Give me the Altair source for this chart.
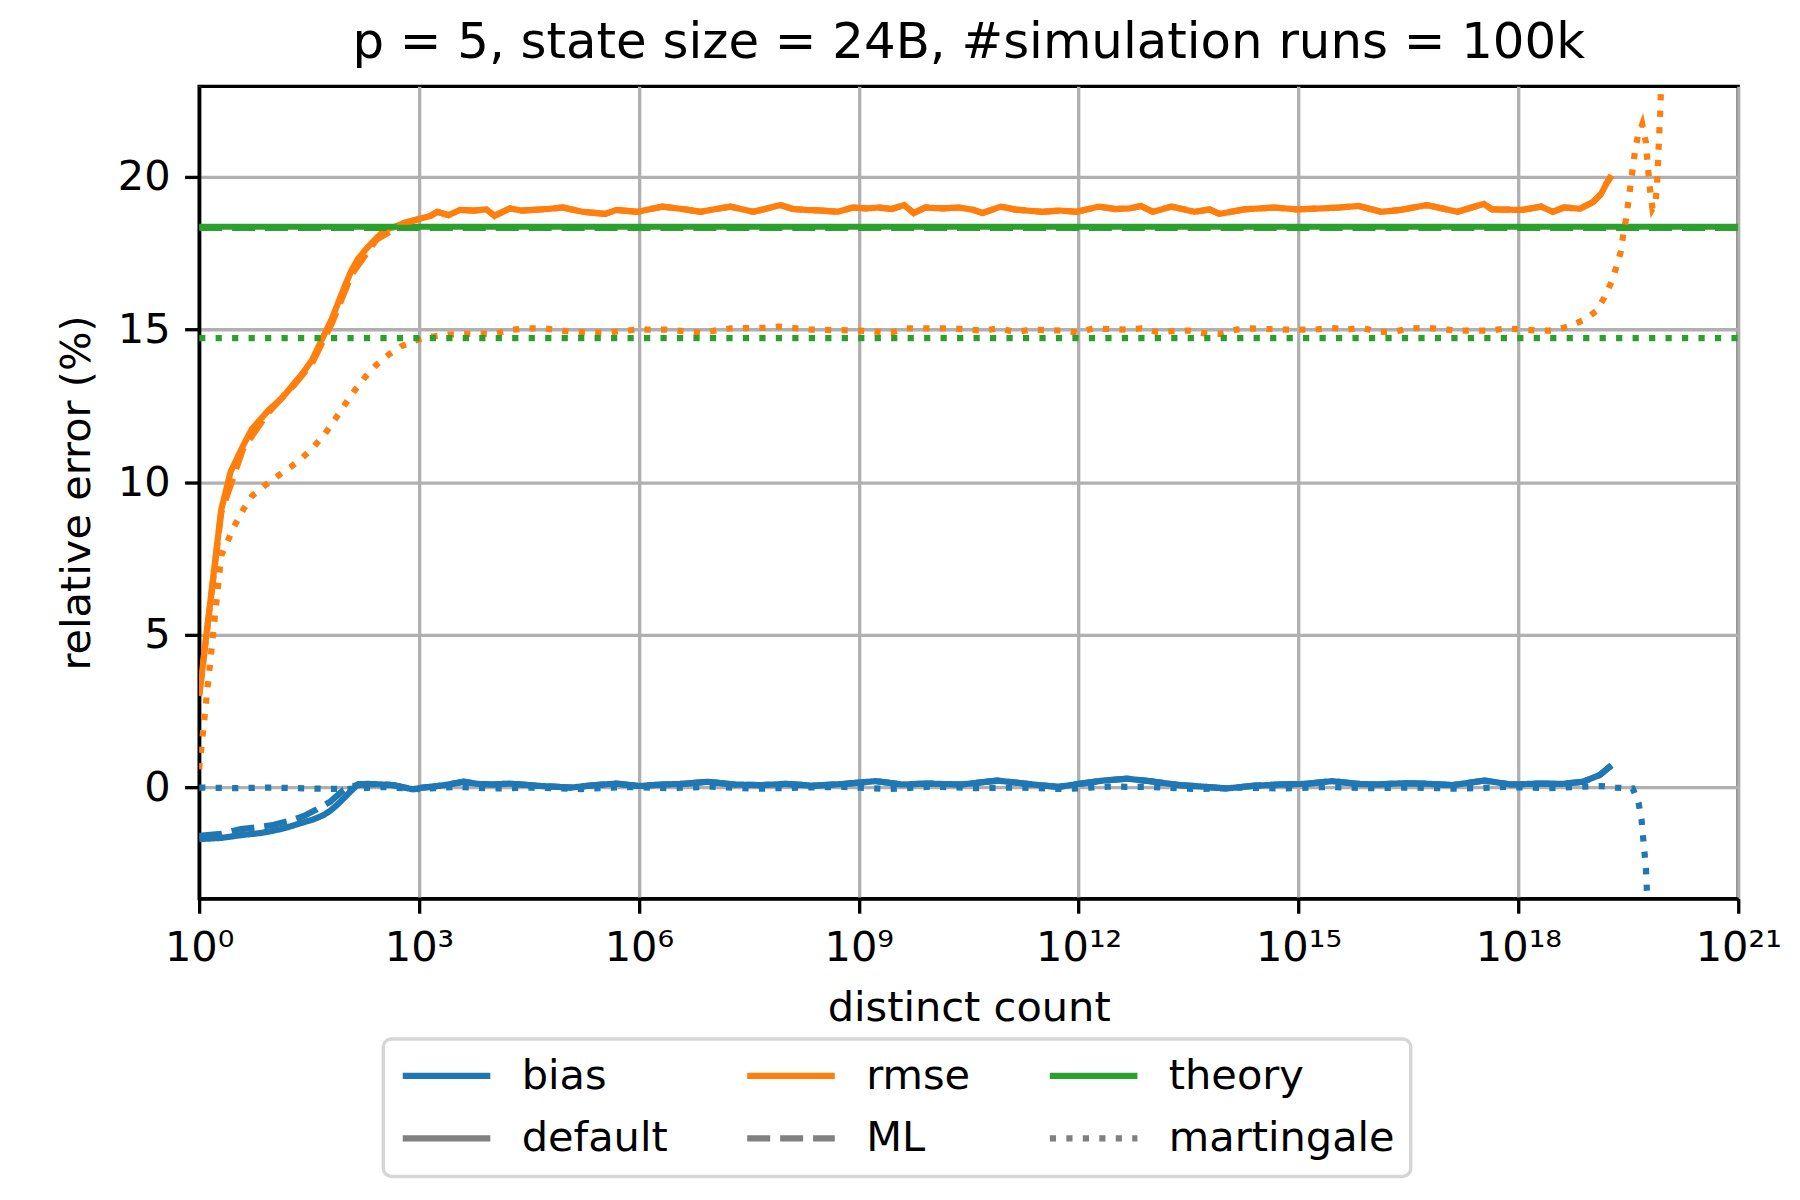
import altair as alt
import pandas as pd

# x positions are log10(distinct count), values are relative error in %
rmse_default_x = [0, 0.301, 0.43, 0.6, 0.72, 0.85, 0.95, 1.08, 1.18, 1.3, 1.42, 1.54, 1.65, 1.73, 1.81,
                  1.9, 1.99, 2.08, 2.17, 2.3, 2.42, 2.54, 2.65, 2.8, 2.99, 3.15, 3.25, 3.40, 3.56, 3.75,
                  3.92, 4.03, 4.24, 4.4, 4.55, 4.75, 4.96, 5.23, 5.54, 5.69, 5.98, 6.32, 6.63, 6.84, 7.05,
                  7.25, 7.56, 7.75, 7.93, 8.1, 8.29, 8.5, 8.71, 8.92, 9.1, 9.28, 9.45, 9.62, 9.75, 9.91,
                  10.15, 10.37, 10.55, 10.69, 10.94, 11.14, 11.5, 11.75, 11.97, 12.28, 12.5, 12.70, 12.85,
                  13.01, 13.27, 13.58, 13.79, 13.92, 14.26, 14.67, 14.98, 15.3, 15.56, 15.82, 16.13, 16.39,
                  16.75, 17.17, 17.53, 17.64, 18.05, 18.31, 18.47, 18.62, 18.84, 19.02, 19.13, 19.2, 19.27]
rmse_default_y = [3.0, 9.1, 10.35, 11.2, 11.75, 12.1, 12.37, 12.65, 12.9, 13.25, 13.6, 14.0, 14.55, 14.95, 15.35,
                  15.9, 16.45, 16.95, 17.33, 17.7, 18.0, 18.28, 18.35, 18.5, 18.62, 18.72, 18.86, 18.75, 18.92, 18.9,
                  18.94, 18.73, 18.97, 18.9, 18.92, 18.95, 19.0, 18.86, 18.79, 18.92, 18.86, 19.03, 18.94, 18.86, 18.95,
                  19.03, 18.86, 18.97, 19.08, 18.95, 18.92, 18.9, 18.86, 19.0, 18.97, 19.0, 18.95, 19.08, 18.82, 19.0,
                  18.97, 19.0, 18.93, 18.82, 19.03, 18.93, 18.86, 18.9, 18.86, 19.03, 18.95, 18.97, 19.05,
                  18.86, 19.03, 18.86, 18.94, 18.79, 18.94, 19.0, 18.94, 18.97, 19.0, 19.05, 18.86, 18.92,
                  19.08, 18.86, 19.12, 18.94, 18.92, 19.03, 18.86, 19.0, 18.96, 19.18, 19.45, 19.78, 20.05]

rmse_ml_x = [0, 0.301, 0.6, 0.95, 1.3, 1.54, 1.81, 2.08, 2.42, 2.8] + rmse_default_x[25:]
rmse_ml_y = [3.0, 9.0, 11.1, 12.3, 13.2, 13.9, 15.2, 16.8, 17.95, 18.48] + rmse_default_y[25:]

rmse_mart_x = [0, 0.301, 0.477, 0.6, 0.72, 0.9, 1.09, 1.25, 1.40, 1.56, 1.72, 1.85, 1.99, 2.12, 2.26, 2.42,
               2.58, 2.75, 2.94, 3.15, 3.40, 3.61, 4.03, 4.27, 4.47, 4.71, 5.07, 5.54, 5.98, 6.37, 6.84, 7.25,
               7.70, 7.90, 8.34, 9.02, 9.44, 9.65, 10.27, 10.69, 10.92, 11.14, 11.35, 11.77, 12.0, 12.2, 12.65,
               12.86, 13.06, 13.5, 13.71, 13.94, 14.15, 14.36, 14.78, 15.22, 15.45, 15.66, 15.87, 16.07, 16.31,
               16.51, 16.75, 17.17, 17.61, 17.84, 18.26, 18.47, 18.68, 18.88, 19.06, 19.17, 19.27, 19.34, 19.40,
               19.43, 19.47, 19.50, 19.53, 19.56, 19.59, 19.63, 19.69, 19.74, 19.76, 19.78, 19.80, 19.83, 19.87,
               19.89, 19.90, 19.91, 19.92, 19.93, 19.94, 19.95, 19.96]
rmse_mart_y = [0.6, 7.6, 8.55, 9.1, 9.55, 9.9, 10.24, 10.5, 10.78, 11.15, 11.6, 12.05, 12.55, 13.0, 13.43, 13.85,
               14.17, 14.45, 14.64, 14.76, 14.84, 14.86, 14.86, 15.0, 15.04, 15.04, 14.93, 14.9, 15.0, 15.0, 14.9, 15.04,
               15.06, 15.1, 15.0, 14.97, 14.9, 15.04, 15.04, 14.97, 15.04, 14.92, 15.0, 14.97, 14.9, 15.04, 15.0,
               15.04, 14.93, 14.97, 14.88, 14.86, 15.0, 15.04, 15.0, 15.0, 15.06, 15.0, 15.06, 14.93, 14.93,
               15.04, 15.06, 14.97, 14.97, 15.04, 14.97, 14.97, 15.1, 15.3, 15.6, 16.04, 16.56, 17.07, 17.58,
               18.1, 18.64, 19.18, 19.73, 20.27, 20.81, 21.35, 21.73, 21.13, 20.54, 20.0, 19.5, 18.96, 19.13,
               19.67, 20.2, 20.75, 21.3, 21.84, 22.38, 23.5, 25.0]

bias_default_x = [0, 0.301, 0.39, 0.6, 0.84, 1.0, 1.11, 1.25, 1.38, 1.55, 1.70, 1.80, 1.88, 1.97, 2.06, 2.17,
                  2.3, 2.42, 2.65, 2.8, 2.92, 3.05, 3.19, 3.4, 3.61, 3.8, 4.0, 4.23, 4.6, 5.07, 5.4, 5.69, 6.0,
                  6.32, 6.6, 6.94, 7.3, 7.67, 8.0, 8.39, 8.8, 9.23, 9.6, 9.95, 10.4, 10.89, 11.3, 11.72, 12.0,
                  12.34, 12.66, 12.97, 13.38, 13.7, 14.01, 14.4, 14.73, 15.1, 15.46, 15.8, 16.08, 16.4, 16.71,
                  17.1, 17.54, 17.9, 18.27, 18.6, 18.88, 19.11, 19.27]
bias_default_y = [-1.69, -1.65, -1.62, -1.55, -1.49, -1.42, -1.36, -1.27, -1.17, -1.05, -0.9, -0.74, -0.57, -0.36,
                  -0.14, 0.11, 0.12, 0.11, 0.08, 0.0, -0.06, 0.0, 0.03, 0.1, 0.19, 0.12, 0.1, 0.13, 0.06, 0.0, 0.08,
                  0.13, 0.05, 0.1, 0.12, 0.19, 0.1, 0.08, 0.12, 0.06, 0.12, 0.21, 0.1, 0.13, 0.1, 0.23, 0.12, 0.02,
                  0.12, 0.23, 0.29, 0.21, 0.08, 0.03, -0.03, 0.06, 0.1, 0.12, 0.21, 0.12, 0.1, 0.14, 0.13, 0.08,
                  0.23, 0.1, 0.13, 0.12, 0.19, 0.41, 0.73]

bias_ml_x = [0, 0.301, 0.57, 0.8, 1.02, 1.25, 1.43, 1.6, 1.79, 1.97, 2.15, 2.3] + bias_default_x[17:]
bias_ml_y = [-1.58, -1.52, -1.36, -1.3, -1.22, -1.08, -0.93, -0.72, -0.46, -0.08, 0.08, 0.1] + bias_default_y[17:]

bias_mart_x = [0, 0.5, 1.0, 1.5, 2.0, 2.5, 3.0, 3.5, 4.0, 4.6, 5.2, 5.8, 6.4, 7.0, 7.6, 8.2, 8.8, 9.4, 10.0,
               10.6, 11.2, 11.8, 12.4, 13.0, 13.6, 14.2, 14.8, 15.4, 16.0, 16.6, 17.2, 17.8, 18.4, 18.9, 19.13,
               19.33, 19.56, 19.64, 19.68, 19.70, 19.72, 19.74, 19.75, 19.76, 19.77]
bias_mart_y = [0.0, -0.02, 0.0, -0.03, -0.05, 0.02, -0.05, 0.02, -0.03, 0.0, -0.05, 0.02, -0.02, 0.03, -0.04,
               0.0, 0.02, -0.05, 0.03, -0.02, 0.0, -0.05, 0.03, 0.02, -0.05, 0.0, -0.03, 0.02, -0.02, 0.0, -0.04,
               0.02, -0.02, 0.03, 0.05, 0.0, -0.03, -0.5, -1.04, -1.57, -2.11, -2.65, -3.18, -3.67, -4.5]

theory_x = [0, 21]
theory_default_y = [18.37, 18.37]
theory_ml_y = [18.33, 18.33]
theory_mart_y = [14.72, 14.72]

entries = ["bias", "rmse", "theory", "default", "ML", "martingale"]
colors = ["#1f77b4", "#ff7f0e", "#2ca02c", "#808080", "#808080", "#808080"]
dashes = [[1, 0], [1, 0], [1, 0], [1, 0], [23.1, 10], [6.25, 10.3]]

series = [
    ("bias", "default", bias_default_x, bias_default_y),
    ("rmse", "default", rmse_default_x, rmse_default_y),
    ("theory", "default", theory_x, theory_default_y),
    ("bias", "ML", bias_ml_x, bias_ml_y),
    ("rmse", "ML", rmse_ml_x, rmse_ml_y),
    ("theory", "ML", theory_x, theory_ml_y),
    ("bias", "martingale", bias_mart_x, bias_mart_y),
    ("rmse", "martingale", rmse_mart_x, rmse_mart_y),
    ("theory", "martingale", theory_x, theory_mart_y),
]

rows = []
for q, est, xs, ys in series:
    for i, (e, v) in enumerate(zip(xs, ys)):
        rows.append({"n": 10.0 ** e, "value": v, "quantity": q, "estimator": est, "i": i})
df = pd.DataFrame(rows)

FONT = "DejaVu Sans"
FS = 41.7

legend = alt.Legend(
    title=None, orient="none", legendX=185, legendY=957, columns=3, direction="horizontal",
    symbolType="stroke", symbolSize=7744, symbolStrokeWidth=6.25, clipHeight=41.7,
    labelFontSize=FS, labelFont=FONT, labelColor="black", labelOffset=28, labelLimit=500,
    columnPadding=76, rowPadding=20, padding=16,
    strokeColor="#d6d6d6", fillColor="white", cornerRadius=8,
)

sup_labels = "['10\u2070','10\u00b3','10\u2076','10\u2079','10\u00b9\u00b2','10\u00b9\u2075','10\u00b9\u2078','10\u00b2\u00b9'][round(log(datum.value)/LN10/3)]"

chart = alt.Chart(df).mark_line(strokeWidth=6.25, clip=True).encode(
    x=alt.X("n:Q",
            scale=alt.Scale(type="log", domain=[1, 1e21], nice=False),
            axis=alt.Axis(values=[1, 1e3, 1e6, 1e9, 1e12, 1e15, 1e18, 1e21], labelExpr=sup_labels,
                          title="distinct count", labelFlush=False, labelOverlap=False,
                          titleY=122, titleBaseline="alphabetic")),
    y=alt.Y("value:Q",
            scale=alt.Scale(domain=[-3.64, 22.97], nice=False, zero=False),
            axis=alt.Axis(values=[0, 5, 10, 15, 20], format="d", title="relative error (%)",
                          titleX=-110, titleY=408, titleBaseline="alphabetic", titleAngle=-90,
                          titleAlign="center")),
    color=alt.Color("quantity:N", scale=alt.Scale(domain=entries, range=colors), legend=legend),
    strokeDash=alt.StrokeDash("estimator:N", scale=alt.Scale(domain=entries, range=dashes), legend=legend),
    order=alt.Order("i:Q"),
).properties(
    width=1546, height=816,
    title=alt.TitleParams(text="p = 5, state size = 24B, #simulation runs = 100k", font=FONT, fontSize=50,
                          fontWeight="normal", color="black", anchor="middle", offset=25,
                          baseline="alphabetic", dy=47),
    autosize=alt.AutoSizeParams(type="none"),
    padding={"left": 192, "top": 76, "right": 54, "bottom": 300},
).configure_view(
    stroke="black", strokeWidth=3.33
).configure_axis(
    domainColor="black", domainWidth=3.33, tickColor="black", tickWidth=3.33, tickSize=14.6,
    labelPadding=14.6, labelFont=FONT, labelFontSize=FS, labelColor="black",
    titleFont=FONT, titleFontSize=FS, titleFontWeight="normal", titleColor="black",
    gridColor="#b0b0b0", gridWidth=3.33, gridOpacity=1,
).configure_legend(
    strokeWidth=3.5, rowPadding=20, columnPadding=76, labelLimit=500
)

chart.save("out.html", embed_options={"renderer": "svg", "actions": False})
